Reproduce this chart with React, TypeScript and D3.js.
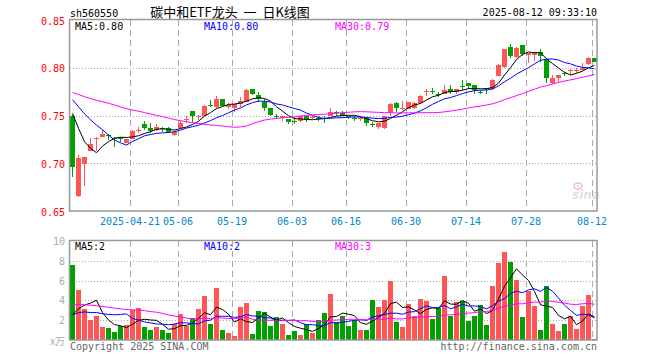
import React from "react";
import * as d3 from "d3";

const dates = [
  "2025-04-07","2025-04-08","2025-04-09","2025-04-10","2025-04-11","2025-04-14","2025-04-15","2025-04-16","2025-04-17","2025-04-18",
  "2025-04-21","2025-04-22","2025-04-23","2025-04-24","2025-04-25","2025-04-28","2025-04-29","2025-04-30",
  "2025-05-06","2025-05-07","2025-05-08","2025-05-09","2025-05-12","2025-05-13","2025-05-14","2025-05-15","2025-05-16",
  "2025-05-19","2025-05-20","2025-05-21","2025-05-22","2025-05-23","2025-05-26","2025-05-27","2025-05-28","2025-05-29","2025-05-30",
  "2025-06-03","2025-06-04","2025-06-05","2025-06-06","2025-06-09","2025-06-10","2025-06-11","2025-06-12","2025-06-13",
  "2025-06-16","2025-06-17","2025-06-18","2025-06-19","2025-06-20","2025-06-23","2025-06-24","2025-06-25","2025-06-26","2025-06-27",
  "2025-06-30","2025-07-01","2025-07-02","2025-07-03","2025-07-04","2025-07-07","2025-07-08","2025-07-09","2025-07-10","2025-07-11",
  "2025-07-14","2025-07-15","2025-07-16","2025-07-17","2025-07-18","2025-07-21","2025-07-22","2025-07-23","2025-07-24","2025-07-25",
  "2025-07-28","2025-07-29","2025-07-30","2025-07-31","2025-08-01","2025-08-04","2025-08-05","2025-08-06","2025-08-07","2025-08-08",
  "2025-08-11","2025-08-12"
];

const opens = [
  0.750,0.666,0.699,0.713,0.725,0.728,0.730,0.726,0.726,0.721,
  0.725,0.734,0.741,0.737,0.735,0.737,0.737,0.730,0.737,0.745,
  0.755,0.749,0.749,0.761,0.759,0.767,0.759,0.758,0.762,0.764,
  0.778,0.771,0.764,0.758,0.749,0.747,0.746,0.744,0.744,0.749,
  0.748,0.747,0.747,0.749,0.754,0.753,0.749,0.747,0.746,0.747,
  0.741,0.738,0.737,0.754,0.763,0.757,0.757,0.758,0.763,0.775,
  0.776,0.773,0.773,0.778,0.775,0.781,0.784,0.782,0.775,0.779,
  0.778,0.791,0.801,0.822,0.811,0.824,0.813,0.813,0.817,0.809,
  0.784,0.789,0.795,0.797,0.797,0.798,0.804,0.810
];
const highs = [
  0.751,0.709,0.707,0.726,0.728,0.735,0.731,0.728,0.728,0.725,
  0.735,0.738,0.744,0.742,0.741,0.738,0.738,0.734,0.744,0.749,
  0.755,0.751,0.761,0.766,0.770,0.767,0.763,0.762,0.769,0.778,
  0.778,0.775,0.767,0.758,0.752,0.750,0.746,0.748,0.749,0.749,
  0.749,0.749,0.750,0.758,0.755,0.755,0.750,0.749,0.748,0.748,
  0.743,0.742,0.749,0.763,0.764,0.765,0.764,0.764,0.771,0.778,
  0.779,0.775,0.782,0.782,0.778,0.787,0.784,0.782,0.777,0.779,
  0.788,0.804,0.820,0.825,0.822,0.824,0.815,0.817,0.820,0.809,
  0.792,0.792,0.796,0.799,0.800,0.805,0.811,0.810
];
const lows = [
  0.686,0.665,0.676,0.713,0.713,0.728,0.724,0.717,0.722,0.721,
  0.725,0.732,0.735,0.732,0.734,0.733,0.732,0.729,0.736,0.742,
  0.743,0.745,0.749,0.759,0.758,0.760,0.757,0.754,0.759,0.764,
  0.771,0.764,0.755,0.749,0.746,0.744,0.741,0.741,0.743,0.743,
  0.746,0.744,0.742,0.749,0.750,0.749,0.746,0.744,0.744,0.739,
  0.738,0.736,0.736,0.750,0.754,0.756,0.757,0.757,0.762,0.770,
  0.773,0.769,0.773,0.772,0.772,0.777,0.778,0.772,0.773,0.773,
  0.777,0.791,0.800,0.810,0.810,0.812,0.805,0.807,0.806,0.784,
  0.783,0.785,0.791,0.792,0.795,0.798,0.803,0.806
];
const closes = [
  0.696,0.706,0.707,0.720,0.726,0.731,0.729,0.725,0.725,0.725,
  0.734,0.735,0.737,0.734,0.738,0.736,0.733,0.733,0.742,0.746,
  0.749,0.750,0.760,0.760,0.767,0.760,0.761,0.762,0.765,0.777,
  0.772,0.767,0.758,0.751,0.748,0.749,0.743,0.743,0.749,0.745,
  0.748,0.746,0.746,0.754,0.753,0.750,0.748,0.746,0.747,0.742,
  0.740,0.742,0.749,0.762,0.758,0.758,0.764,0.763,0.770,0.776,
  0.775,0.772,0.777,0.775,0.778,0.780,0.781,0.777,0.774,0.778,
  0.787,0.803,0.820,0.812,0.821,0.814,0.815,0.817,0.812,0.789,
  0.789,0.792,0.794,0.798,0.798,0.800,0.810,0.806
];
// volume in 万手
const volumes = [
  7.53,5.03,3.1,1.97,2.43,1.33,1.23,0.83,1.37,1.53,
  3.0,3.23,1.33,1.03,1.33,1.03,0.73,1.57,2.6,1.43,
  2.23,3.1,4.4,1.63,5.23,1.03,0.73,0.43,3.33,3.73,
  0.63,2.93,2.83,1.43,2.33,1.63,0.53,0.93,0.53,1.63,
  0.73,2.0,2.73,4.6,1.83,2.43,1.43,2.03,1.03,1.03,
  4.03,3.33,4.03,5.93,1.83,1.33,3.63,2.43,4.13,3.93,
  2.13,3.23,6.43,2.43,3.83,3.93,1.93,2.43,3.53,1.53,
  5.43,7.73,8.93,7.83,6.03,2.33,4.93,3.43,1.03,5.43,
  1.63,0.93,1.63,2.43,1.13,3.43,4.53,0.13
];
// sessions before the visible window (estimated from the MA lines), oldest first
const priorCloses = [
  0.772,0.775,0.779,0.781,0.778,0.776,0.780,0.783,0.779,0.777,
  0.775,0.778,0.781,0.779,0.776,0.778,0.780,0.777,0.779,0.777,
  0.780,0.782,0.781,0.783,0.779,0.784,0.777,0.755,0.749
];
const priorVolumes = [
  3.2,3.9,3.5,4.1,3.4,3.8,3.3,3.7,3.6,3.9,
  3.4,3.5,3.8,3.3,4.6,5.4,5.1,4.8,5.3,4.8,
  2.9,2.3,2.7,2.4,2.45,2.0,1.2,1.0,1.0
];

const priceTicks = [0.85, 0.8, 0.75, 0.7, 0.65];
const volTicks = [10, 8, 6, 4, 2];
const dateTickDates = ["2025-04-21","2025-05-06","2025-05-19","2025-06-03","2025-06-16","2025-06-30","2025-07-14","2025-07-28","2025-08-12"];
const dateTickLabels = ["2025-04-21","05-06","05-19","06-03","06-16","06-30","07-14","07-28","08-12"];
const maPeriods = [5, 10, 30];
const maColors = ["#000000", "#0000ff", "#ff00ff"];
const titleText = "碳中和ETF龙头  一  日K线图";
const codeText = "sh560550";
const stampText = "2025-08-12 09:33:10";

const RED = "#ff5555";
const GREEN = "#00a000";
const GRID = "#aaaaaa";
const MONO = "'DejaVu Sans Mono', 'Liberation Mono', monospace";

function movingAvg(prior: number[], vals: number[], n: number): number[] {
  const all = prior.concat(vals);
  const off = prior.length;
  return vals.map((_, i) => d3.mean(all.slice(off + i - n + 1, off + i + 1)) as number);
}

export default function App() {
  const W = 660, H = 360;
  const left = 70, right = 597;
  const pTop = 20, pBot = 211;
  const vTop = 241, vBot = 340;

  const x = d3.scaleBand<string>().domain(dates).range([69.5, 597.5]).paddingInner(1 / 6).paddingOuter(1 / 12);
  const bw = x.bandwidth();
  const cx = (d: string) => (x(d) as number) + bw / 2;
  const yP = d3.scaleLinear().domain([0.65, 0.85]).range([pBot, pTop]);
  const yV = d3.scaleLinear().domain([0, 10]).range([vBot, vTop]);

  const priceMAs = maPeriods.map((n) => movingAvg(priorCloses, closes, n));
  const volMAs = maPeriods.map((n) => movingAvg(priorVolumes, volumes, n));

  const linePrice = d3.line<number>().x((_, i) => cx(dates[i])).y((v) => yP(v));
  const lineVol = d3.line<number>().x((_, i) => cx(dates[i])).y((v) => yV(v));

  const f2 = d3.format(".2f");
  const maLabelX = [75, 204, 335];

  return (
    <svg width={W} height={H} style={{ position: "absolute", left: 0, top: 0, background: "#fff" }} fontFamily={MONO}>
      <rect x={0} y={0} width={W} height={H} fill="#fff" />
      {/* header */}
      <text x={left} y={17} fontSize={10} fill="#000">{codeText}</text>
      <text x={230} y={17} fontSize={13} fill="#000" textAnchor="middle" fontFamily="'Noto Sans CJK SC', sans-serif" style={{ whiteSpace: "pre" }}>{titleText}</text>
      <text x={right} y={16} fontSize={10} fill="#000" textAnchor="end">{stampText}</text>

      {/* grids */}
      {priceTicks.slice(1, -1).map((t) => (
        <line key={"pg" + t} x1={left} x2={right} y1={Math.round(yP(t)) + 0.5} y2={Math.round(yP(t)) + 0.5} stroke={GRID} strokeDasharray="1,2" />
      ))}
      {volTicks.slice(1).map((t) => (
        <line key={"vg" + t} x1={left} x2={right} y1={Math.round(yV(t)) + 0.5} y2={Math.round(yV(t)) + 0.5} stroke={GRID} strokeDasharray="1,2" />
      ))}
      {dateTickDates.map((d) => {
        const gx = Math.round(x(d) as number) + 0.5;
        return (
          <g key={"dg" + d}>
            <line x1={gx} x2={gx} y1={pTop} y2={pBot} stroke={GRID} strokeDasharray="6,4" />
            <line x1={gx} x2={gx} y1={vTop} y2={vBot} stroke={GRID} strokeDasharray="6,4" />
          </g>
        );
      })}

      {/* candles */}
      {dates.map((d, i) => {
        const up = closes[i] >= opens[i];
        const col = up ? RED : GREEN;
        const top = yP(Math.max(opens[i], closes[i]));
        const bot = yP(Math.min(opens[i], closes[i]));
        const xx = x(d) as number;
        return (
          <g key={"c" + d} shapeRendering="crispEdges">
            <line x1={xx + bw / 2} x2={xx + bw / 2} y1={yP(highs[i])} y2={yP(lows[i])} stroke={col} strokeWidth={1} />
            <rect x={xx} y={top} width={bw} height={Math.max(1, bot - top)} fill={col} />
          </g>
        );
      })}

      {/* volume bars */}
      {dates.map((d, i) => {
        const up = closes[i] >= opens[i];
        return (
          <rect key={"v" + d} x={x(d) as number} y={yV(volumes[i])} width={bw} height={vBot - yV(volumes[i])} fill={up ? RED : GREEN} shapeRendering="crispEdges" />
        );
      })}

      {/* MA lines */}
      {priceMAs.map((m, k) => (
        <path key={"pm" + k} d={linePrice(m) as string} fill="none" stroke={maColors[k]} strokeWidth={1} />
      ))}
      {volMAs.map((m, k) => (
        <path key={"vm" + k} d={lineVol(m) as string} fill="none" stroke={maColors[k]} strokeWidth={1} />
      ))}

      {/* watermark */}
      <g opacity={0.55}>
        <ellipse cx={578} cy={186} rx={4} ry={3} fill="none" stroke="#f08080" strokeWidth={1.5} />
        <circle cx={578} cy={186} r={1} fill="#f08080" />
        <text x={572} y={199} fontSize={12} fontStyle="italic" fontWeight="bold" fill="#c8c8c8" fontFamily="'DejaVu Sans', sans-serif">sina</text>
      </g>

      {/* borders */}
      <rect x={left - 0.5} y={pTop - 0.5} width={right - left + 0.5} height={pBot - pTop + 0.5} fill="none" stroke="#999" strokeWidth={1.5} />
      <rect x={left - 0.5} y={vTop - 0.5} width={right - left + 0.5} height={vBot - vTop + 0.5} fill="none" stroke="#999" strokeWidth={1.5} />

      {/* price axis labels */}
      {priceTicks.map((t) => (
        <text key={"pl" + t} x={65} y={yP(t) + 4.5} fontSize={10} fill="#ff0000" textAnchor="end">{f2(t)}</text>
      ))}
      {/* volume axis labels */}
      {volTicks.map((t) => (
        <text key={"vl" + t} x={65} y={yV(t) + 4} fontSize={10} fill="#aaaaaa" textAnchor="end">{t}</text>
      ))}
      <text x={65} y={345} fontSize={10} fill="#aaaaaa" textAnchor="end" fontFamily="'Noto Sans CJK SC', sans-serif">x万</text>

      {/* date labels */}
      {dateTickDates.map((d, k) => (
        <text key={"dl" + d} x={Math.round(x(d) as number)} y={225} fontSize={10} fill="#0088cc" textAnchor="middle">{dateTickLabels[k]}</text>
      ))}

      {/* MA legends */}
      {maPeriods.map((n, k) => (
        <text key={"pml" + n} x={maLabelX[k]} y={30} fontSize={10} fill={maColors[k]}>{`MA${n}:${f2(priceMAs[k][priceMAs[k].length - 1])}`}</text>
      ))}
      {maPeriods.map((n, k) => (
        <text key={"vml" + n} x={maLabelX[k]} y={250} fontSize={10} fill={maColors[k]}>{`MA${n}:${Math.floor(volMAs[k][volMAs[k].length - 1])}`}</text>
      ))}

      {/* footer */}
      <text x={left} y={350} fontSize={10} fill="#666">Copyright 2025 SINA.COM</text>
      <text x={right} y={350} fontSize={10} fill="#666" textAnchor="end">http://finance.sina.com.cn</text>
    </svg>
  );
}
